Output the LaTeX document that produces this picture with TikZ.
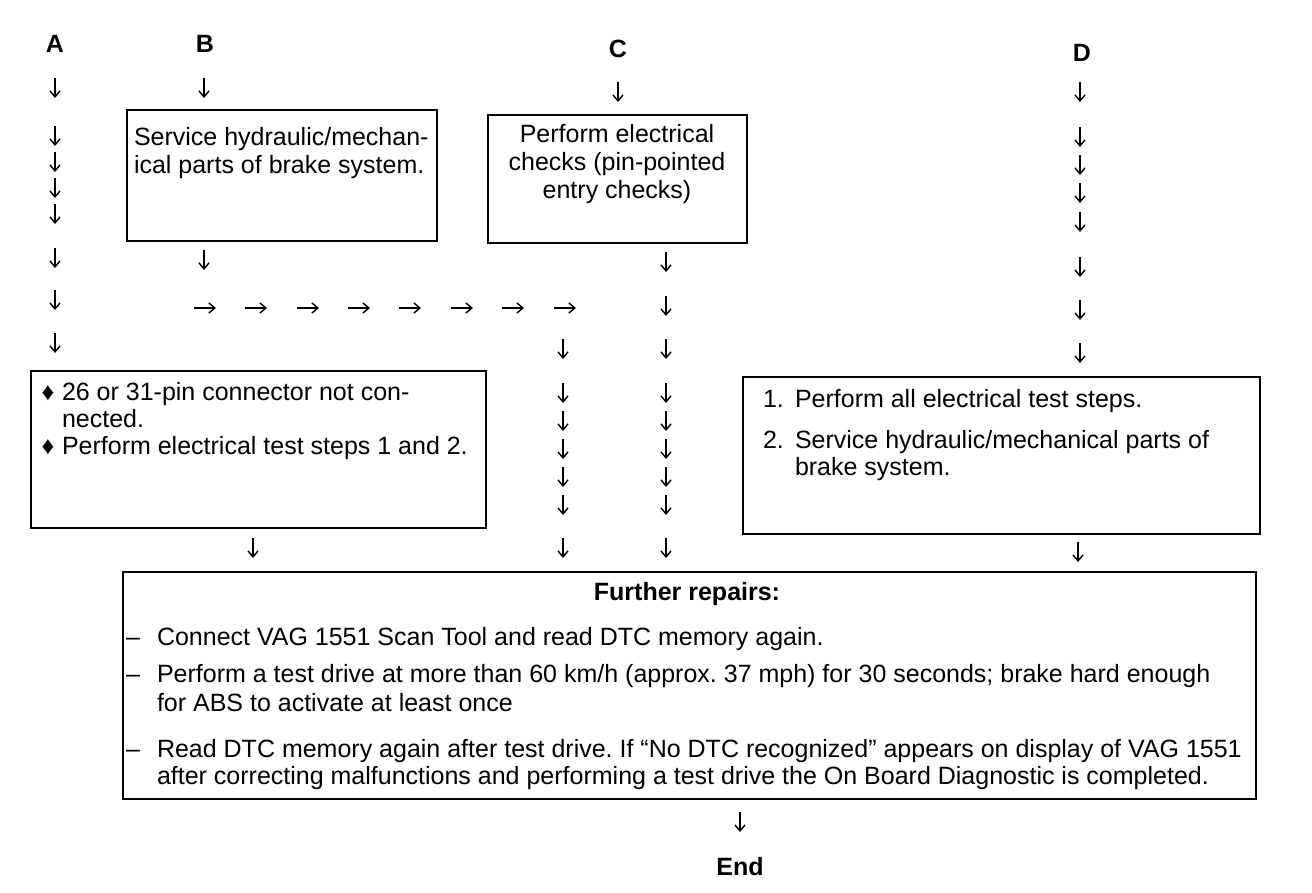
\documentclass[tikz,border=0pt]{standalone}
\usepackage{fontspec}
\setmainfont{Liberation Sans}
\usetikzlibrary{arrows.meta}
\frenchspacing
\begin{document}
\begin{tikzpicture}[x=1pt,y=-1pt,
  every node/.style={inner sep=0pt, outer sep=0pt},
  txt/.style={font=\fontsize{25}{28}\selectfont, anchor=base west},
  ctxt/.style={font=\fontsize{25}{28}\selectfont, anchor=base},
  lbl/.style={font=\bfseries\fontsize{25}{28}\selectfont, anchor=base},
  box/.style={draw, line width=2pt, anchor=north west},
  arr/.style={line width=1.4pt, -{Straight Barb[length=6pt,width=10pt,line width=1.4pt]}},
  bul/.style={font=\fontsize{25}{25}\selectfont, anchor=center}]
\useasboundingbox (0,0) rectangle (1312,892);

% labels
\node[lbl] (lA) at (55,52) {A};
\node[lbl] (lB) at (205,52) {B};
\node[lbl] (lC) at (618,57) {C};
\node[lbl] (lD) at (1082,61) {D};
\node[lbl] (lEnd) at (740,875) {End};

% boxes
\node[box, minimum width=310pt, minimum height=131pt] (boxB) at (127,110) {};
\node[box, minimum width=259pt, minimum height=128pt] (boxC) at (488,115) {};
\node[box, minimum width=455pt, minimum height=157pt] (boxA) at (31,371) {};
\node[box, minimum width=517pt, minimum height=157pt] (boxD) at (743,377) {};
\node[box, minimum width=1133pt, minimum height=227pt] (boxF) at (123,572) {};

% box B
\node[txt] (b1) at (134,145) {Service hydraulic/mechan-};
\node[txt] (b2) at (134,173) {ical parts of brake system.};
% box C
\node[ctxt] (c1) at (617,142) {Perform electrical};
\node[ctxt] (c2) at (617,170) {checks (pin-pointed};
\node[ctxt] (c3) at (617,198) {entry checks)};
% box A
\node[bul] (ab1) at (48,393) {♦};
\node[txt] (a1) at (62,400) {26 or 31-pin connector not con-};
\node[txt] (a2) at (62,427) {nected.};
\node[bul] (ab2) at (48,447) {♦};
\node[txt] (a3) at (62,454) {Perform electrical test steps 1 and 2.};
% box D
\node[txt] (dn1) at (763,407) {1.};
\node[txt] (d1) at (795,407) {Perform all electrical test steps.};
\node[txt] (dn2) at (763,448) {2.};
\node[txt] (d2) at (795,448) {Service hydraulic/mechanical parts of};
\node[txt] (d3) at (795,475) {brake system.};
% further repairs
\node[lbl] (f0) at (687,600) {Further repairs:};
\node[txt] (fd1) at (126,645) {–};
\node[txt] (f1) at (157,645) {Connect VAG 1551 Scan Tool and read DTC memory again.};
\node[txt] (fd2) at (126,682) {–};
\node[txt] (f2) at (157,682) {Perform a test drive at more than 60 km/h (approx. 37 mph) for 30 seconds; brake hard enough};
\node[txt] (f3) at (157,711) {for ABS to activate at least once};
\node[txt] (fd3) at (126,757) {–};
\node[txt] (f4) at (157,757) {Read DTC memory again after test drive. If “No DTC recognized” appears on display of VAG 1551};
\node[txt] (f5) at (157,784) {after correcting malfunctions and performing a test drive the On Board Diagnostic is completed.};

% small arrows
\foreach \y in {88,136,162,188,214,258,300,343}
  \draw[arr] (55,\y-10) -- (55,\y+10);
\foreach \y in {88,260}
  \draw[arr] (204,\y-10) -- (204,\y+10);
\draw[arr] (618,82) -- (618,102);
\foreach \y in {349,393,421,449,477,505,548}
  \draw[arr] (563,\y-10) -- (563,\y+10);
\foreach \y in {262,306,349,393,421,449,477,505,548}
  \draw[arr] (666,\y-10) -- (666,\y+10);
\foreach \y in {92,137,165,193,222,267,310,353}
  \draw[arr] (1080,\y-10) -- (1080,\y+10);
\foreach \x in {205,256,308,359,410,462,513,565}
  \draw[arr] (\x-11,308) -- (\x+11,308);
\draw[arr] (253,538) -- (253,558);
\draw[arr] (1078,542) -- (1078,562);
\draw[arr] (740,812) -- (740,832);
\end{tikzpicture}
\end{document}
